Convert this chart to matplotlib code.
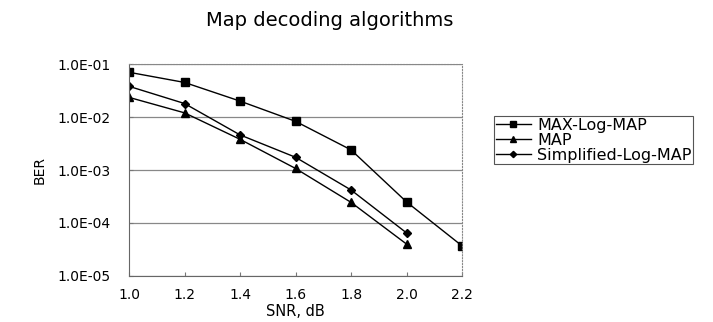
import matplotlib
matplotlib.use('Agg')
import matplotlib.pyplot as plt

plt.rcParams['font.family'] = ['DejaVu Sans']

SNR = [1.0, 1.2, 1.4, 1.6, 1.8, 2.0, 2.2]
MAX_LOG_MAP = [0.070, 0.045, 0.020, 0.0083, 0.0024, 0.00025, 3.7e-5]
MAP = [0.0235, 0.012, 0.0038, 0.00107, 0.000245, 4.0e-5]
SIMPLIFIED = [0.038, 0.018, 0.0046, 0.00174, 0.00042, 6.5e-5]
Y_TICKS = [1e-5, 1e-4, 1e-3, 1e-2, 1e-1]
Y_LABELS = ['1.0E-05', '1.0E-04', '1.0E-03', '1.0E-02', '1.0E-01']

fig = plt.figure(figsize=(7.13, 3.22), dpi=100)
ax = fig.add_axes([0.181, 0.143, 0.467, 0.658])

ax.plot(SNR, MAX_LOG_MAP, label='MAX-Log-MAP', color='black', marker='s', markersize=5.5, linewidth=1)
ax.plot(SNR[:len(MAP)], MAP, label='MAP', color='black', marker='^', markersize=5.5, linewidth=1)
ax.plot(SNR[:len(SIMPLIFIED)], SIMPLIFIED, label='Simplified-Log-MAP', color='black', marker='D', markersize=4, linewidth=1)

ax.set_yscale('log')
ax.set_ylim(1e-5, 1e-1)
ax.set_xlim(1.0, 2.2)
ax.set_yticks(Y_TICKS)
ax.set_yticklabels(Y_LABELS)
ax.minorticks_off()
ax.set_xticks(SNR)
ax.set_xticklabels(['%.1f' % s for s in SNR])
ax.tick_params(labelsize=10, direction='in', length=3, color='#777777')
ax.tick_params(axis='x', pad=9)
ax.tick_params(axis='y', pad=13)
ax.yaxis.grid(True, color='#888888', linewidth=0.9)
ax.set_axisbelow(True)

for side in ['top', 'right']:
  ax.spines[side].set_linestyle(':')
  ax.spines[side].set_color('#888888')
ax.spines['left'].set_color('#666666')
ax.spines['bottom'].set_color('#666666')

ax.set_xlabel('SNR, dB', fontsize=10.5, labelpad=1)
ax.set_ylabel('BER', fontsize=10, labelpad=8)
fig.text(0.463, 0.935, 'Map decoding algorithms', fontsize=14, ha='center', va='center')

leg = fig.legend(loc='upper left', bbox_to_anchor=(494 / 713, 1 - 116 / 322), fontsize=11.5,
                 fancybox=False, edgecolor='#555555', framealpha=1, borderpad=0.1,
                 labelspacing=0.0, handlelength=2.2, handletextpad=0.4, borderaxespad=0,
                 markerscale=0.8)
leg.get_frame().set_linewidth(0.8)

fig.savefig('out.png', dpi=100)
